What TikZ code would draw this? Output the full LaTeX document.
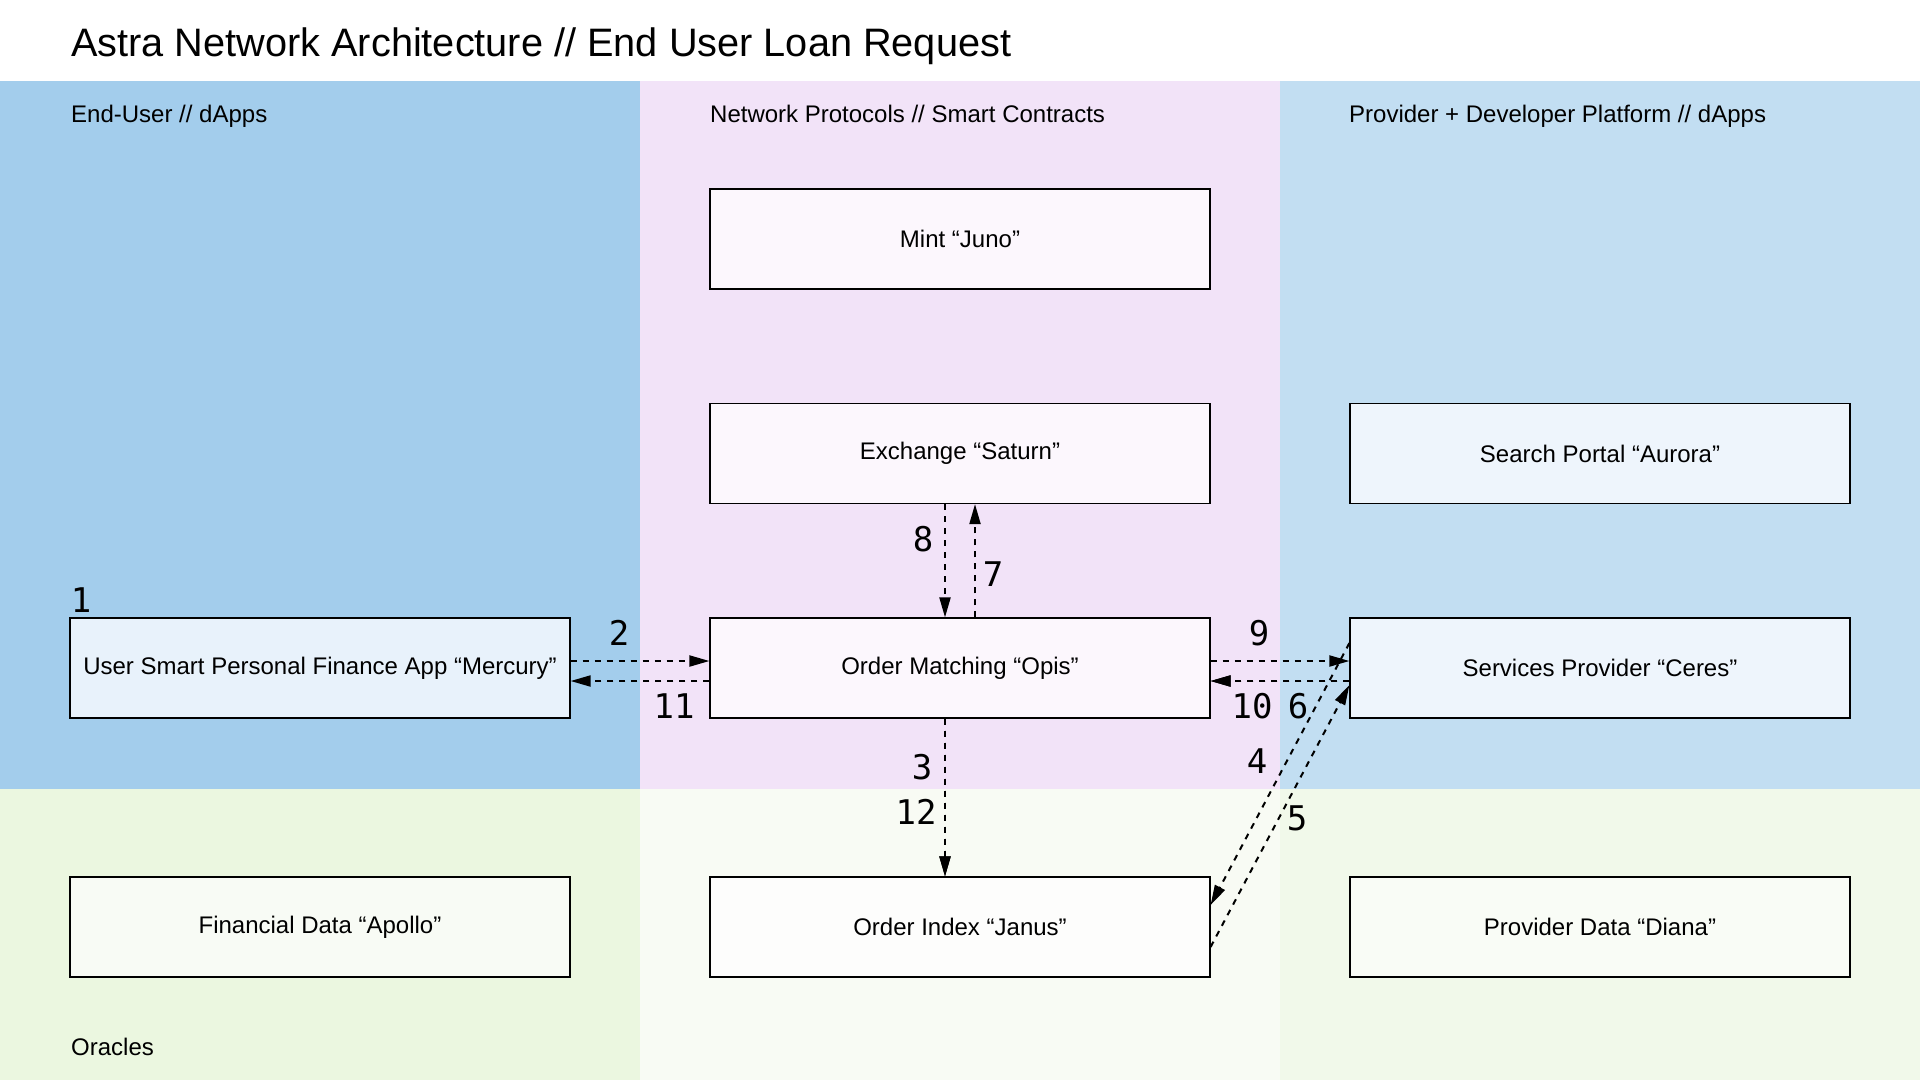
\documentclass[tikz,border=0pt]{standalone}
\usepackage{fontspec}
\setmainfont{Liberation Sans}
\newfontfamily\monofont{DejaVu Sans Mono}
\usetikzlibrary{arrows.meta}
\definecolor{laneA}{HTML}{A3CDEC}
\definecolor{laneB}{HTML}{F2E3F8}
\definecolor{laneC}{HTML}{C2DEF2}
\definecolor{laneD}{HTML}{EBF7E0}
\definecolor{laneE}{HTML}{F8FBF4}
\definecolor{laneF}{HTML}{F1F9EA}
\definecolor{fMerc}{HTML}{E8F2FB}
\definecolor{fMid}{HTML}{FCF7FD}
\definecolor{fRight}{HTML}{EEF5FC}
\definecolor{fApollo}{HTML}{F8FBF5}
\definecolor{fJanus}{HTML}{FDFDFC}
\definecolor{fDiana}{HTML}{F9FCF6}
\begin{document}
\begin{tikzpicture}[x=1pt,y=-1pt,
  box/.style={draw=black, line width=1.2pt, minimum width=500pt, minimum height=100pt, inner sep=0pt, font=\fontsize{24}{28}\selectfont},
  flow/.style={-{Triangle[length=20pt,width=11pt]}, line width=2pt, dash pattern=on 6pt off 6pt},
  num/.style={font=\monofont\fontsize{34}{40}\selectfont, inner sep=0pt},
  lane/.style={font=\fontsize{24}{28}\selectfont, anchor=base west, inner sep=0pt}]
\useasboundingbox (0,0) rectangle (1920,1080);
\fill[white] (0,0) rectangle (1920,1080);
\fill[laneA] (0,81) rectangle (640,789);
\fill[laneB] (640,81) rectangle (1280,789);
\fill[laneC] (1280,81) rectangle (1920,789);
\fill[laneD] (0,789) rectangle (640,1080);
\fill[laneE] (640,789) rectangle (1280,1080);
\fill[laneF] (1280,789) rectangle (1920,1080);

\node[anchor=base west, inner sep=0pt, font=\fontsize{39.7}{46}\selectfont] (title) at (71,56) {Astra Network Architecture // End User Loan Request};
\node[lane] (laneEU) at (71,122) {End-User // dApps};
\node[lane] (laneNP) at (710,122) {Network Protocols // Smart Contracts};
\node[lane] (lanePD) at (1349,122) {Provider + Developer Platform // dApps};
\node[lane] (laneOr) at (71,1055.5) {Oracles};

\node[box, fill=fMid] (juno) at (960,239) {Mint “Juno”};
\node[box, fill=fMid] (saturn) at (960,453.5) {Exchange “Saturn”};
\node[box, fill=fRight] (aurora) at (1600,453.5) {Search Portal “Aurora”};
\node[box, fill=fMerc] (merc) at (320,668) {User Smart Personal Finance App “Mercury”};
\node[box, fill=fMid] (opis) at (960,668) {Order Matching “Opis”};
\node[box, fill=fRight] (ceres) at (1600,668) {Services Provider “Ceres”};
\node[box, fill=fApollo] (apollo) at (320,927) {Financial Data “Apollo”};
\node[box, fill=fJanus] (janus) at (960,927) {Order Index “Janus”};
\node[box, fill=fDiana] (diana) at (1600,927) {Provider Data “Diana”};

% 2 and 11
\draw[flow] ([yshift=7pt]merc.east) -- ([yshift=7pt]opis.west);
\draw[flow] ([yshift=-13pt]opis.west) -- ([yshift=-13pt]merc.east);
% 9, 10 and 6
\draw[flow] ([yshift=7pt]opis.east) -- ([yshift=7pt]ceres.west);
\draw[flow] ([yshift=-13pt]ceres.west) -- ([yshift=-13pt]opis.east);
\draw[flow] ([yshift=-13pt]ceres.west) -- ([yshift=-13pt]opis.east);
% 8 and 7
\draw[flow] ([xshift=-15pt]saturn.south) -- ([xshift=-15pt]opis.north);
\draw[flow] ([xshift=15pt]opis.north) -- ([xshift=15pt]saturn.south);
% 3 and 12
\draw[flow] ([xshift=-15pt]opis.south) -- ([xshift=-15pt]janus.north);
\draw[flow] ([xshift=-15pt]opis.south) -- ([xshift=-15pt]janus.north);
% 4 and 5
\draw[flow] ([yshift=25pt]ceres.west) -- ([yshift=22pt]janus.east);
\draw[flow] ([yshift=-20pt]janus.east) -- ([yshift=-17pt]ceres.west);

\node[num] (n1) at (81,600) {1};
\node[num] (n2) at (619,633) {2};
\node[num] (n11) at (674,706) {11};
\node[num] (n8) at (923,539) {8};
\node[num] (n7) at (993,574) {7};
\node[num] (n9) at (1259,633) {9};
\node[num] (n10) at (1252,706) {10};
\node[num] (n6) at (1298,706) {6};
\node[num] (n4) at (1257,761) {4};
\node[num] (n5) at (1297,818) {5};
\node[num] (n3) at (922,767.5) {3};
\node[num] (n12) at (916,812) {12};
\end{tikzpicture}
\end{document}
